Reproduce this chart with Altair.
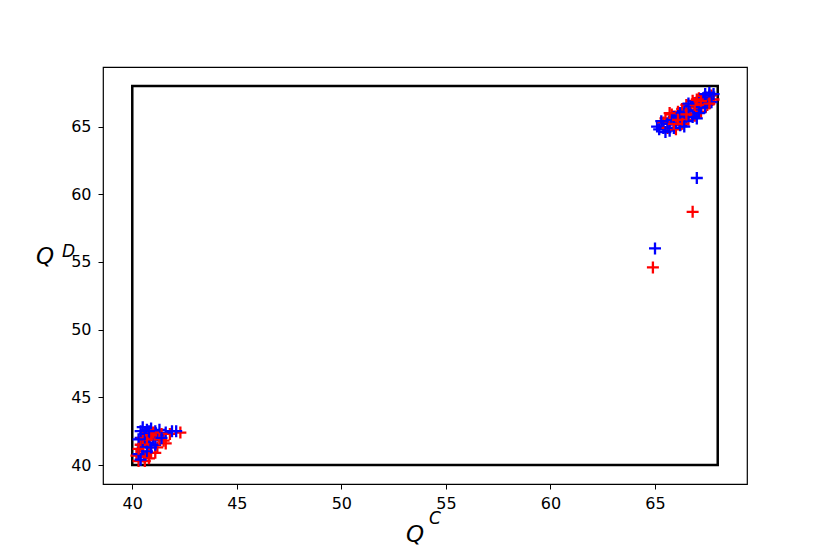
import altair as alt
import pandas as pd

# Blue series (x = Q^C, y = Q^D)
blue_x = [65.1, 65.2, 65.4, 65.5, 65.7, 65.6, 65.8, 65.9, 66.0, 66.1, 66.2, 66.3, 66.4, 66.5, 66.6,
          66.7, 66.8, 66.9, 67.0, 67.1, 67.2, 67.3, 67.4, 67.5, 67.6, 67.7, 67.8, 67.6, 66.2, 65.9,
          66.6, 67.0, 65.3, 66.4, 67.4,
          67.0, 65.0,
          40.5, 40.7, 40.9, 41.1, 41.3, 41.6, 41.9, 42.1, 40.4, 40.6, 40.8, 41.0, 41.2, 40.5, 40.7,
          40.3, 40.4, 41.1, 40.9, 40.3, 40.6, 41.4, 40.4, 40.8]
blue_y = [65.0, 64.8, 64.9, 64.6, 64.7, 65.2, 65.5, 64.9, 65.3, 65.8, 65.1, 65.6, 66.1, 65.4, 65.9,
          66.5, 65.7, 66.2, 66.8, 66.0, 66.5, 67.1, 66.4, 66.9, 67.3, 66.8, 67.4, 67.5, 66.0, 65.7,
          66.7, 65.6, 65.4, 65.0, 67.4,
          61.2, 56.0,
          42.8, 42.6, 42.7, 42.5, 42.6, 42.4, 42.5, 42.5, 42.0, 41.7, 42.1, 41.9, 42.2, 41.3, 41.0,
          40.8, 40.4, 41.5, 41.3, 41.9, 42.3, 42.0, 42.5, 42.5]

# Red series
red_x = [65.4, 65.5, 65.6, 65.7, 65.8, 66.0, 66.0, 66.1, 66.2, 66.3, 66.4, 66.5, 66.6, 66.7, 66.8,
         66.9, 67.0, 67.1, 67.2, 67.3, 67.4, 67.5, 67.6, 67.7, 67.8, 66.3, 65.9, 66.9, 67.2, 65.7,
         66.5, 67.6, 66.1, 67.0,
         66.8, 64.9,
         42.3, 41.8, 41.5, 41.2, 40.9, 40.6, 40.3, 40.2, 40.5, 40.8, 41.0, 41.4, 40.7, 40.4, 41.1,
         40.6, 40.8, 41.6, 41.0, 40.5, 41.3, 40.3, 40.9]
red_y = [65.3, 65.6, 64.9, 65.4, 65.9, 65.6, 64.8, 66.1, 65.4, 66.3, 65.7, 66.6, 65.5, 66.2, 66.9,
         65.8, 66.4, 67.1, 66.1, 66.7, 67.2, 66.6, 67.0, 67.3, 67.0, 65.2, 65.2, 66.6, 66.9, 66.0,
         65.9, 66.7, 65.5, 67.0,
         58.7, 54.6,
         42.4, 42.3, 41.8, 41.3, 40.9, 40.6, 40.3, 40.7, 41.0, 41.5, 42.0, 42.3, 41.9, 41.5, 40.9,
         40.3, 40.5, 41.6, 42.4, 42.0, 41.9, 41.2, 42.2]

# Bounding box drawn on the chart
box_x = [40, 68]
box_y = [40, 68]

tick_vals = [40, 45, 50, 55, 60, 65]
domain = [38.6, 69.4]

df = pd.concat([
    pd.DataFrame({"x": blue_x, "y": blue_y, "s": "blue"}),
    pd.DataFrame({"x": red_x, "y": red_y, "s": "red"}),
], ignore_index=True)
# interleave drawing order so both colours show through the clusters
df["order"] = [i * 2 for i in range(len(blue_x))] + [i * 2 + 1 for i in range(len(red_x))]

box_df = pd.DataFrame({"x": [box_x[0]], "x2": [box_x[1]], "y": [box_y[0]], "y2": [box_y[1]]})

xs = alt.Scale(domain=domain, nice=False, zero=False)
ys = alt.Scale(domain=domain, nice=False, zero=False)

axis_kw = dict(values=tick_vals, title=None, grid=False, domain=False, tickColor="black",
               tickSize=5, tickWidth=1, labelColor="black", labelFontSize=16,
               labelFont="DejaVu Sans")

rect = alt.Chart(box_df).mark_rect(filled=False, stroke="black", strokeWidth=2.5).encode(
    x=alt.X("x:Q", scale=xs, axis=alt.Axis(labelPadding=6, **axis_kw)),
    x2="x2:Q",
    y=alt.Y("y:Q", scale=ys, axis=alt.Axis(labelPadding=7, **axis_kw)),
    y2="y2:Q",
)

pts = alt.Chart(df).mark_point(
    shape="M-1,0L1,0M0,-1L0,1", filled=False, strokeWidth=2.3, size=144, opacity=1
).encode(
    x=alt.X("x:Q", scale=xs),
    y=alt.Y("y:Q", scale=ys),
    color=alt.Color("s:N", scale=alt.Scale(domain=["blue", "red"], range=["#0000ff", "#ff0000"]),
                    legend=None),
    order="order:Q",
)

one = pd.DataFrame({"a": [0]})
xq = alt.Chart(one).mark_text(text="Q", fontSize=23, fontStyle="italic", font="DejaVu Sans",
                              color="black", align="center", baseline="alphabetic").encode(
    x=alt.value(312), y=alt.value(475))
xc = alt.Chart(one).mark_text(text="C", fontSize=17, fontStyle="italic", font="DejaVu Sans",
                              color="black", align="left", baseline="alphabetic").encode(
    x=alt.value(326), y=alt.value(457))
yq = alt.Chart(one).mark_text(text="Q", fontSize=23, fontStyle="italic", font="DejaVu Sans",
                              color="black", align="center", baseline="alphabetic").encode(
    x=alt.value(-58), y=alt.value(197))
yd = alt.Chart(one).mark_text(text="D", fontSize=17, fontStyle="italic", font="DejaVu Sans",
                              color="black", align="left", baseline="alphabetic").encode(
    x=alt.value(-41), y=alt.value(190))

chart = alt.layer(rect, pts, xq, xc, yq, yd).properties(
    width=644, height=417,
    autosize=alt.AutoSizeParams(type="none"),
    padding={"left": 95, "top": 59, "right": 75, "bottom": 62},
    background="white",
).configure_view(stroke="black", strokeWidth=1.2)

chart.save("out.html", embed_options={"renderer": "svg", "actions": False})
